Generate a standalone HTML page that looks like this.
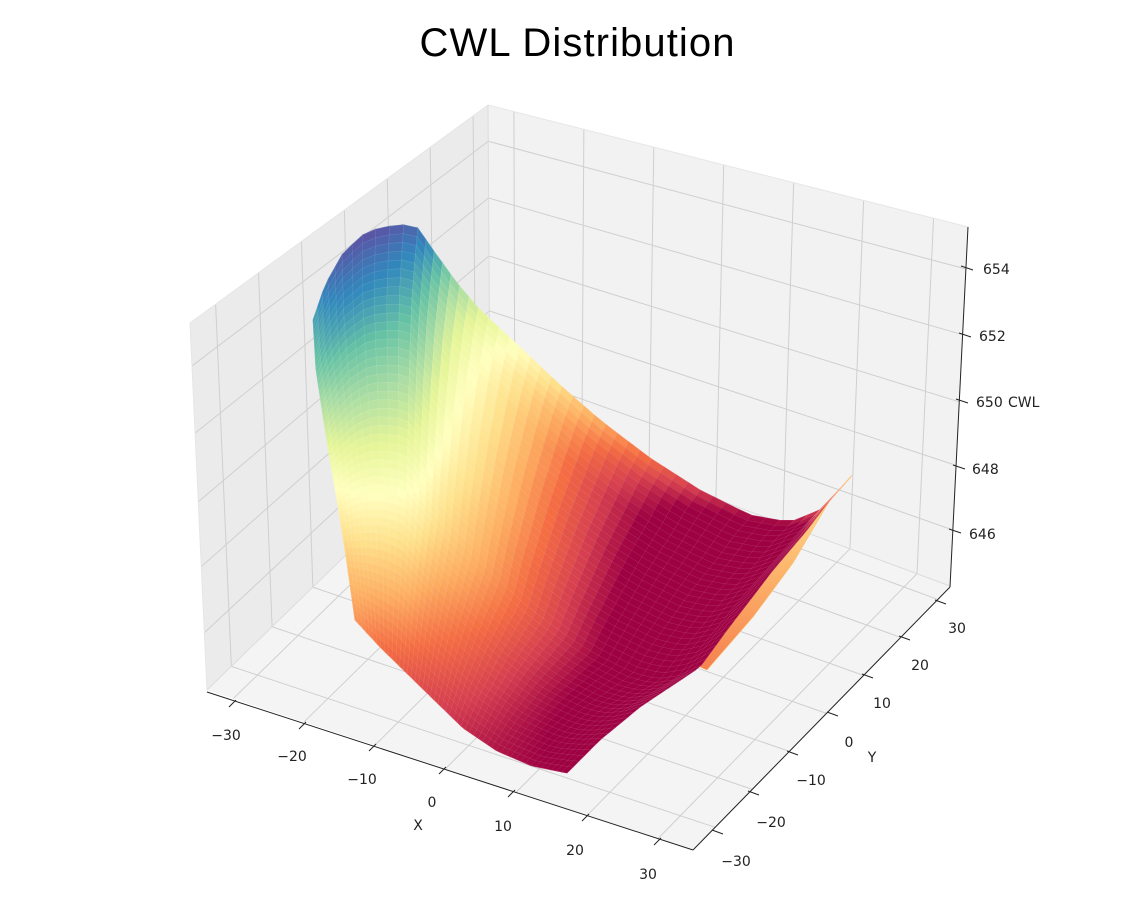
<!DOCTYPE html>
<html><head><meta charset="utf-8">
<style>
html,body{margin:0;padding:0;background:#fff;}
svg{display:block;}
text{font-family:"DejaVu Sans","Liberation Sans",sans-serif;font-size:14px;fill:#222;}
.title{font-family:"Liberation Sans",sans-serif;font-size:40px;fill:#000;}
</style></head>
<body>
<svg id="s" width="1142" height="910" viewBox="0 0 1142 910" xmlns="http://www.w3.org/2000/svg">
<defs>
<linearGradient id="und" x1="0" y1="0" x2="0" y2="1">
<stop offset="0" stop-color="#fee89a"/><stop offset="0.5" stop-color="#fdb46a"/><stop offset="1" stop-color="#f5804f"/>
</linearGradient>
</defs>
<g id="panes"></g>
<g id="surf"></g>
<g id="axes"></g>
<text class="title" x="577" y="56" text-anchor="middle" textLength="315">CWL Distribution</text>
<g>
<text x="226" y="740" text-anchor="middle">−30</text>
<text x="292" y="761" text-anchor="middle">−20</text>
<text x="362" y="784" text-anchor="middle">−10</text>
<text x="432" y="807" text-anchor="middle">0</text>
<text x="503" y="831" text-anchor="middle">10</text>
<text x="575" y="855" text-anchor="middle">20</text>
<text x="648" y="879" text-anchor="middle">30</text>
<text x="418" y="830" text-anchor="middle">X</text>
<text x="736" y="866" text-anchor="middle">−30</text>
<text x="771" y="827" text-anchor="middle">−20</text>
<text x="811" y="785" text-anchor="middle">−10</text>
<text x="849" y="747" text-anchor="middle">0</text>
<text x="882" y="708" text-anchor="middle">10</text>
<text x="920" y="670" text-anchor="middle">20</text>
<text x="957" y="633" text-anchor="middle">30</text>
<text x="872" y="762" text-anchor="middle">Y</text>
<text x="983" y="274">654</text>
<text x="979" y="341">652</text>
<text x="976" y="407">650</text>
<text x="972" y="474">648</text>
<text x="969" y="539">646</text>
<text x="1008" y="407">CWL</text>
</g>
</svg>
<script>
var NS="http://www.w3.org/2000/svg";
function el(p,n,a){var e=document.createElementNS(NS,n);for(var k in a)e.setAttribute(k,a[k]);p.appendChild(e);return e;}
function bil(q,u,v){return [(1-u)*(1-v)*q[0][0]+u*(1-v)*q[1][0]+(1-u)*v*q[2][0]+u*v*q[3][0],
(1-u)*(1-v)*q[0][1]+u*(1-v)*q[1][1]+(1-u)*v*q[2][1]+u*v*q[3][1]];}
var panes=document.getElementById('panes');
var left=[[207,690],[490,415],[190,323],[488,105]];
var back=[[490,415],[950,586],[488,105],[968,227]];
var floor=[[207,690],[693,850],[490,415],[950,586]];
function poly(q,fill){el(panes,'polygon',{points:[q[0],q[1],q[3],q[2]].map(function(p){return p.join(',')}).join(' '),fill:fill,stroke:'none'});}
poly(left,'#ebebeb');poly(back,'#f2f2f2');poly(floor,'#f4f4f4');
var yf=[],xf=[],zf=[0.156,0.336,0.513,0.70,0.883];
for(var k=0;k<7;k++){yf.push(0.086+k*0.144);xf.push(0.054+k*0.1457);}
function gl(q,a,b){var p=bil(q,a[0],a[1]),r=bil(q,b[0],b[1]);el(panes,'line',{x1:p[0],y1:p[1],x2:r[0],y2:r[1],stroke:'#cfcfcf','stroke-width':1});}
yf.forEach(function(u){gl(left,[u,0],[u,1]);gl(floor,[0,u],[1,u]);});
zf.forEach(function(v){gl(left,[0,v],[1,v]);gl(back,[0,v],[1,v]);});
xf.forEach(function(u){gl(back,[u,0],[u,1]);gl(floor,[u,0],[u,1]);});
el(panes,'polyline',{points:'207,690 190,323 488,105 968,227',fill:'none',stroke:'#e6e6e6','stroke-width':1});
el(panes,'polyline',{points:'207,690 490,415 950,586',fill:'none',stroke:'#dcdcdc','stroke-width':1});
el(panes,'line',{x1:490,y1:415,x2:488,y2:105,stroke:'#dcdcdc','stroke-width':1});

var ax=document.getElementById('axes');
function ln(a,b,c,d,w){el(ax,'line',{x1:a,y1:b,x2:c,y2:d,stroke:'#222','stroke-width':w||1});}
ln(207,692,693,850);ln(693,850,950,587);ln(950,587,968,227);
[[233,703],[303,725],[373,747],[443,770],[512,793],[586,817],[658,841]].forEach(function(t){ln(t[0]-4,t[1]+4,t[0]+3,t[1]-3);});
[[715,831],[751,792],[790,752],[830,713],[865,675],[902,637],[938,601]].forEach(function(t){ln(t[0]-3,t[1]-1,t[0]+8,t[1]+3);});
[[965,267],[963,334],[960,400],[957,466],[953,530]].forEach(function(t){ln(t[0]-4,t[1]-1,t[0]+8,t[1]+3);});

var sg=document.getElementById('surf');
el(sg,'polygon',{points:'852,475 830,500 793,563 753,617 707,670 700,667 727,630 773,570 807,530 830,500 850,478',fill:'url(#und)',stroke:'#fbbf72','stroke-width':0.6});
function mk(pts){var L=[0];for(var i=1;i<pts.length;i++){L.push(L[i-1]+Math.hypot(pts[i][0]-pts[i-1][0],pts[i][1]-pts[i-1][1]));}
var T=L[L.length-1];return function(u){var d=u*T;for(var i=1;i<pts.length;i++){if(d<=L[i]||i==pts.length-1){var f=(d-L[i-1])/(L[i]-L[i-1]);f=Math.max(0,Math.min(1,f));
return [pts[i-1][0]+f*(pts[i][0]-pts[i-1][0]),pts[i-1][1]+f*(pts[i][1]-pts[i-1][1]),pts[i-1][2]+f*(pts[i][2]-pts[i-1][2])];}}};}
var B=mk([[313,320,.85],[325,285,.93],[343,253,.98],[367,231,1],[400,224,.98],[418,228,.95],[433,250,.88],[457,283,.72],[480,310,.62],[523,350,.5],[560,385,.4],[600,420,.3],[650,458,.2],[700,490,.1],[750,515,.03],[790,522,.03],[820,510,.12],[850,478,.4]]);
var Lf=mk([[313,320,.85],[316,370,.78],[322,410,.68],[330,460,.56],[337,500,.47],[345,550,.37],[355,620,.26]]);
var F=mk([[355,620,.26],[380,647,.2],[427,693,.12],[463,728,.07],[497,751,.03],[532,766,.01],[567,773,0]]);
var R=mk([[850,478,.4],[830,500,.2],[807,530,.06],[773,570,.02],[727,630,0],[700,667,0],[640,707,0],[600,740,0],[567,773,0]]);
var P00=B(0),P10=B(1),P01=F(0),P11=F(1);
function C(s,t){var b=B(s),f=F(s),l=Lf(t),r=R(t),o=[];
for(var k=0;k<3;k++){o.push((1-t)*b[k]+t*f[k]+(1-s)*l[k]+s*r[k]-((1-s)*(1-t)*P00[k]+s*(1-t)*P10[k]+(1-s)*t*P01[k]+s*t*P11[k]));}
o[2]+=0.12*Math.sin(Math.PI*s)*Math.sin(Math.PI*t);return o;}
var cm=[[158,1,66],[213,62,79],[244,109,67],[253,174,97],[254,224,139],[255,255,191],[230,245,152],[171,221,164],[102,194,165],[50,136,189],[94,79,162]];
function col(v){v=Math.max(0,Math.min(1,v))*10;var i=Math.min(9,Math.floor(v)),f=v-i;var a=cm[i],b=cm[i+1];
var c=[0,1,2].map(function(k){return Math.round(a[k]+f*(b[k]-a[k]));});return 'rgb('+c.join(',')+')';}
var N=50,M=50,G=[];
for(var j=0;j<=M;j++){G.push([]);for(var i=0;i<=N;i++)G[j].push(C(i/N,j/M));}
for(var j=0;j<M;j++)for(var i=0;i<N;i++){var a=G[j][i],b=G[j][i+1],c=G[j+1][i+1],d=G[j+1][i];
var v=(a[2]+b[2]+c[2]+d[2])/4,cl=col(v);
el(sg,'polygon',{points:[a,b,c,d].map(function(p){return p[0].toFixed(1)+','+p[1].toFixed(1)}).join(' '),fill:cl,stroke:cl,'stroke-width':0.7});}
var dpath='';
for(var j=0;j<=M;j++){dpath+='M';for(var i=0;i<=N;i++)dpath+=G[j][i][0].toFixed(1)+','+G[j][i][1].toFixed(1)+' ';}
for(var i=0;i<=N;i++){dpath+='M';for(var j=0;j<=M;j++)dpath+=G[j][i][0].toFixed(1)+','+G[j][i][1].toFixed(1)+' ';}
el(sg,'path',{d:dpath,fill:'none',stroke:'rgba(255,255,255,0.16)','stroke-width':0.5});
</script>
</body></html>
